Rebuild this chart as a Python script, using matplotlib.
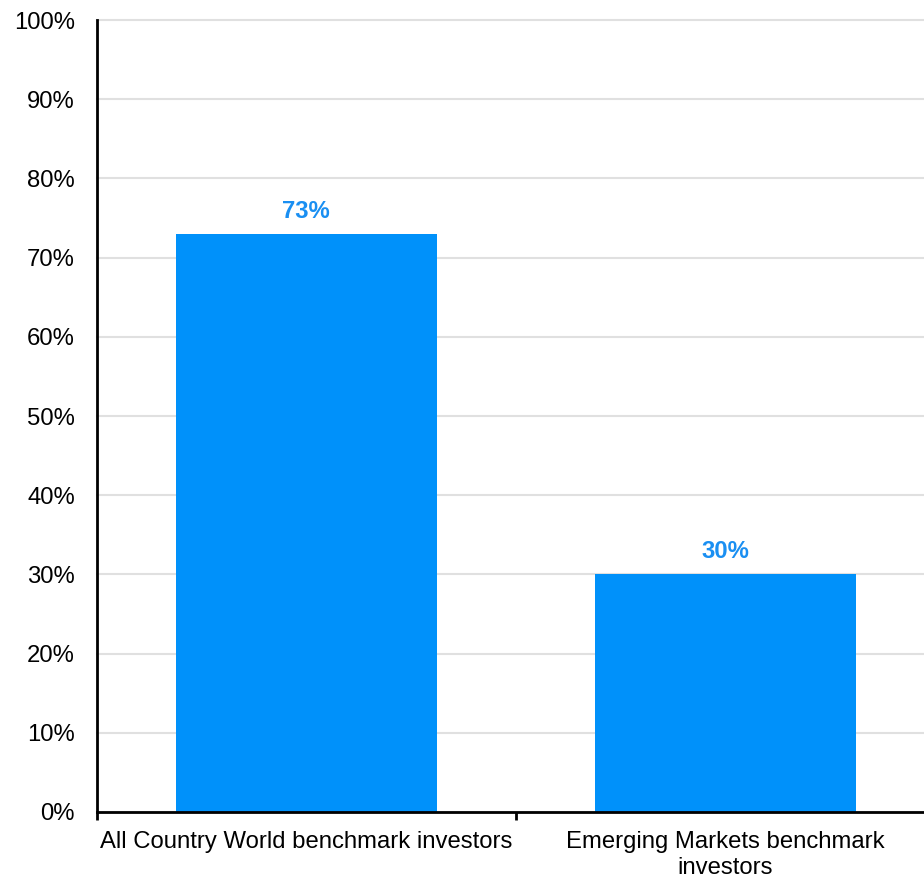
import matplotlib
matplotlib.use("Agg")
import matplotlib.pyplot as plt
from matplotlib.ticker import FixedLocator, PercentFormatter

categories = ["All Country World benchmark investors", "Emerging Markets benchmark\ninvestors"]
values = [73, 30]
value_labels = ["73%", "30%"]
yticks = [0, 10, 20, 30, 40, 50, 60, 70, 80, 90, 100]

plt.rcParams['font.family'] = ['Liberation Sans', 'DejaVu Sans']

fig = plt.figure(figsize=(9.24, 8.77), dpi=100)
ax = fig.add_axes([97/924, 1-812/877, 1-97/924, (812-20)/877])

x = list(range(len(categories)))
bars = ax.bar(x, values, width=0.623, color='#0091FA', zorder=2)
for xi, v, lab in zip(x, values, value_labels):
    ax.annotate(lab, (xi, v), xytext=(0, 8), textcoords='offset points',
                ha='center', va='bottom', fontsize=17.2, fontweight='bold', color='#1A8FF2')

ax.set_xlim(-0.5, 1.475)
ax.set_ylim(0, 100)
ax.set_yticks(yticks)
ax.yaxis.set_major_formatter(PercentFormatter(decimals=0))
ax.tick_params(axis='y', length=0, pad=16, labelsize=17.2)
ax.set_xticks(x)
ax.set_xticklabels(categories, fontsize=17.2, linespacing=1.2)
ax.tick_params(axis='x', which='major', length=0, pad=14)
ax.xaxis.set_minor_locator(FixedLocator([-0.5, 0.5]))
ax.tick_params(axis='x', which='minor', length=6, width=2, direction='out')

ax.grid(axis='y', color='#E0E0E0', linewidth=1.5, zorder=0)
for gl in ax.get_ygridlines():
    gl.set_clip_on(False)
ax.set_axisbelow(True)
for s in ['top', 'right']:
    ax.spines[s].set_visible(False)
for s in ['left', 'bottom']:
    ax.spines[s].set_linewidth(2)
    ax.spines[s].set_color('black')
    ax.spines[s].set_zorder(3)

fig.savefig("out.png", dpi=100)
